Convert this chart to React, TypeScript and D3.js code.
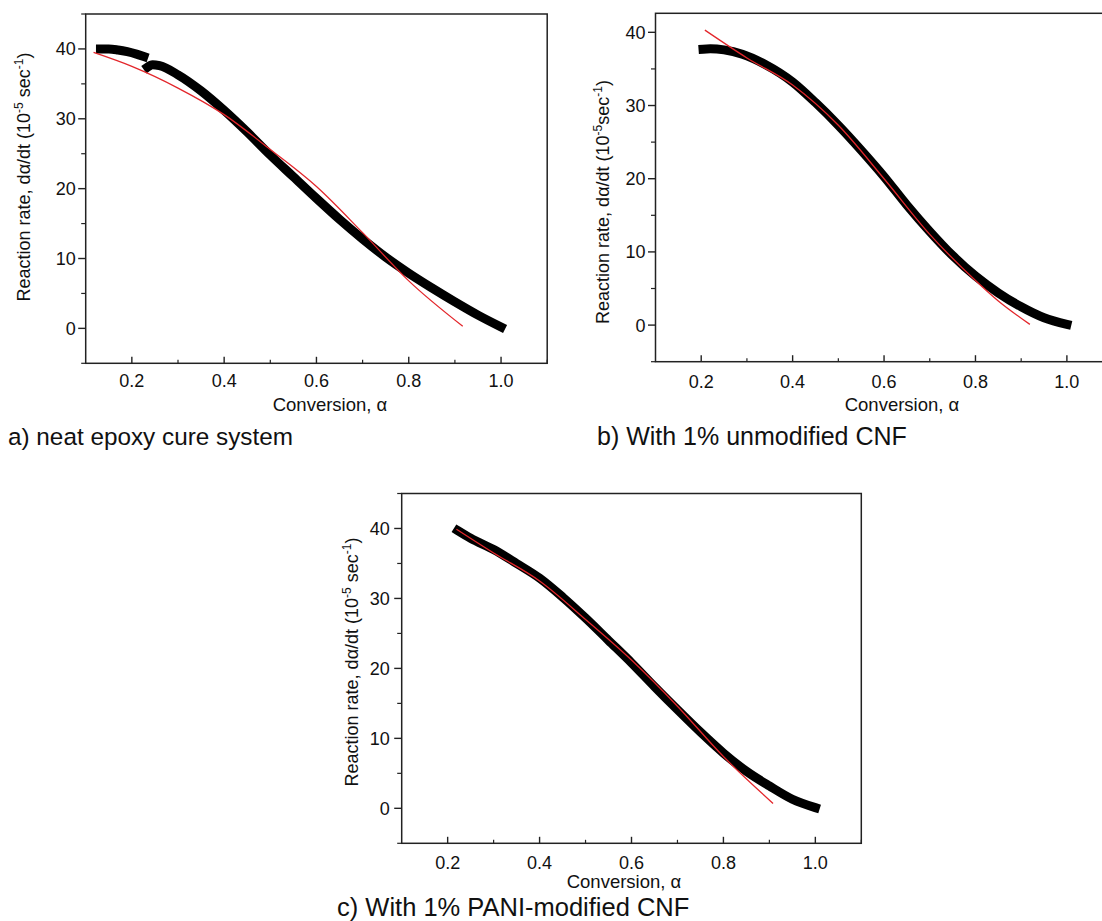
import React from "react";
import * as d3 from "d3";

type Pt = [number, number];

// ---------- DATA ----------
const xMajorTicks = [0.2, 0.4, 0.6, 0.8, 1.0];
const xMinorTicks = [0.3, 0.5, 0.7, 0.9, 1.1];
const yMajorTicks = [0, 10, 20, 30, 40];
const yMinorTicks = [-5, 5, 15, 25, 35, 45];

// a) neat epoxy: experimental (two runs of markers with a step near 0.23) and fit
const neatExp1: Pt[] = [
  [0.132, 40.0], [0.15, 40.0], [0.17, 39.85], [0.19, 39.6], [0.21, 39.25], [0.226, 38.9],
];
const neatExp2: Pt[] = [
  [0.234, 37.4], [0.245, 37.75], [0.26, 37.6], [0.3, 36.3], [0.35, 34.0], [0.4, 31.2],
  [0.45, 28.1], [0.5, 24.8], [0.55, 21.7], [0.6, 18.6], [0.65, 15.6], [0.7, 12.8],
  [0.75, 10.2], [0.8, 7.9], [0.85, 5.8], [0.9, 3.8], [0.95, 1.9], [1.0, 0.2],
];
const neatFit: Pt[] = [
  [0.117, 39.5], [0.2, 37.5], [0.3, 34.4], [0.4, 30.6], [0.5, 25.6], [0.6, 20.3],
  [0.7, 13.7], [0.8, 6.8], [0.917, 0.3],
];

// b) with 1% unmodified CNF
const cnfExp: Pt[] = [
  [0.204, 37.7], [0.22, 37.75], [0.25, 37.6], [0.29, 37.0], [0.34, 35.6], [0.4, 33.2],
  [0.45, 30.4], [0.5, 27.3], [0.55, 23.9], [0.6, 20.3], [0.65, 16.4], [0.7, 12.8],
  [0.75, 9.5], [0.8, 6.7], [0.85, 4.4], [0.9, 2.5], [0.95, 1.0], [1.0, 0.1],
];
const cnfFit: Pt[] = [
  [0.208, 40.3], [0.3, 36.5], [0.4, 32.8], [0.5, 27.3], [0.6, 20.0], [0.7, 12.4],
  [0.8, 6.1], [0.85, 3.3], [0.919, 0.1],
];

// c) with 1% PANI-modified CNF
const paniExp: Pt[] = [
  [0.222, 39.7], [0.25, 38.6], [0.3, 37.0], [0.35, 35.0], [0.4, 32.9], [0.45, 30.2],
  [0.5, 27.2], [0.55, 24.0], [0.6, 20.8], [0.65, 17.4], [0.7, 14.1], [0.75, 10.9],
  [0.8, 7.9], [0.85, 5.3], [0.9, 3.2], [0.95, 1.3], [1.0, 0.1],
];
const paniFit: Pt[] = [
  [0.219, 39.9], [0.3, 36.5], [0.4, 32.5], [0.5, 27.0], [0.6, 21.2], [0.7, 14.6],
  [0.8, 7.4], [0.908, 0.7],
];

const captions = [
  "a) neat epoxy cure system",
  "b) With 1% unmodified CNF",
  "c) With 1% PANI-modified CNF",
];

// ---------- LAYOUT ----------
const FONT = "'Liberation Sans', Arial, Helvetica, sans-serif";
const AXIS = "#222";
const TEXT = "#111";
const RED = "#e3262b";

type Cfg = {
  left: number; right: number; top: number; bottom: number;
  yMax: number;
  yTickGap: number; xTickDy: number;
  xTitle: [number, number];
  yTitle: [number, number];
  ySpace: boolean;
};

const cfgA: Cfg = {
  left: 85.7, right: 547.2, top: 14, bottom: 363.3, yMax: 45,
  yTickGap: 10, xTickDy: 24, xTitle: [330, 411], yTitle: [24, 177], ySpace: true,
};
const cfgB: Cfg = {
  left: 655.5, right: 1112.6, top: 13.3, bottom: 361.7, yMax: 42.6,
  yTickGap: 10, xTickDy: 26.5, xTitle: [902, 411], yTitle: [603, 202], ySpace: false,
};
const cfgC: Cfg = {
  left: 401.7, right: 861.3, top: 493.5, bottom: 843.3, yMax: 45,
  yTickGap: 12, xTickDy: 25.5, xTitle: [624, 888], yTitle: [352, 662], ySpace: true,
};

function Panel({ cfg, exp, fit }: { cfg: Cfg; exp: Pt[][]; fit: Pt[] }) {
  const x = d3.scaleLinear().domain([0.1, 1.1]).range([cfg.left, cfg.right]);
  const y = d3.scaleLinear().domain([-5, cfg.yMax]).range([cfg.bottom, cfg.top]);
  const line = d3
    .line<Pt>()
    .x((d) => x(d[0]))
    .y((d) => y(d[1]))
    .curve(d3.curveMonotoneX);
  const fx = d3.format(".1f");
  const yMinor = yMinorTicks.filter((t) => t <= cfg.yMax);
  return (
    <g>
      {exp.map((seg, i) => (
        <path
          key={i}
          d={line(seg) || ""}
          fill="none"
          stroke="#000"
          strokeWidth={9}
          strokeLinecap="square"
          strokeLinejoin="round"
        />
      ))}
      <path d={line(fit) || ""} fill="none" stroke={RED} strokeWidth={1.3} />
      <rect
        x={cfg.left}
        y={cfg.top}
        width={cfg.right - cfg.left}
        height={cfg.bottom - cfg.top}
        fill="none"
        stroke={AXIS}
        strokeWidth={1.5}
      />
      {/* y ticks (outward) */}
      {yMajorTicks.map((t) => (
        <g key={"ym" + t}>
          <line x1={cfg.left - 7.5} x2={cfg.left} y1={y(t)} y2={y(t)} stroke={AXIS} strokeWidth={1.4} />
          <text
            x={cfg.left - cfg.yTickGap}
            y={y(t)}
            dy="0.36em"
            textAnchor="end"
            fontSize={18}
            fill={TEXT}
          >
            {String(t)}
          </text>
        </g>
      ))}
      {yMinor.map((t) => (
        <line key={"yn" + t} x1={cfg.left - 4.5} x2={cfg.left} y1={y(t)} y2={y(t)} stroke={AXIS} strokeWidth={1.2} />
      ))}
      {/* x ticks (inward) */}
      {xMajorTicks.map((t) => (
        <g key={"xm" + t}>
          <line x1={x(t)} x2={x(t)} y1={cfg.bottom} y2={cfg.bottom - 6.5} stroke={AXIS} strokeWidth={1.4} />
          <text x={x(t)} y={cfg.bottom + cfg.xTickDy} textAnchor="middle" fontSize={18} fill={TEXT}>
            {fx(t)}
          </text>
        </g>
      ))}
      {xMinorTicks.map((t) => (
        <line key={"xn" + t} x1={x(t)} x2={x(t)} y1={cfg.bottom} y2={cfg.bottom - 3.5} stroke={AXIS} strokeWidth={1.2} />
      ))}
      <text x={cfg.xTitle[0]} y={cfg.xTitle[1]} textAnchor="middle" fontSize={18.5} fill={TEXT}>
        Conversion, α
      </text>
      <text
        transform={`translate(${cfg.yTitle[0]},${cfg.yTitle[1]}) rotate(-90)`}
        textAnchor="middle"
        dy="0.35em"
        fontSize={18}
        fill={TEXT}
      >
        <tspan>Reaction rate, dα/dt (10</tspan>
        <tspan dy={-7} fontSize={12}>-5</tspan>
        <tspan dy={7}>{cfg.ySpace ? " sec" : "sec"}</tspan>
        <tspan dy={-7} fontSize={12}>-1</tspan>
        <tspan dy={7}>)</tspan>
      </text>
    </g>
  );
}

export default function App() {
  return (
    <>
      <style>{`html,body{margin:0;padding:0;background:#fff}`}</style>
      <svg width={1102} height={921} style={{ display: "block" }} fontFamily={FONT}>
        <rect width={1102} height={921} fill="#fff" />
        <Panel cfg={cfgA} exp={[neatExp1, neatExp2]} fit={neatFit} />
        <Panel cfg={cfgB} exp={[cnfExp]} fit={cnfFit} />
        <Panel cfg={cfgC} exp={[paniExp]} fit={paniFit} />
        <text x={8} y={445} fontSize={24.3} fill="#111">{captions[0]}</text>
        <text x={597} y={445} fontSize={25} fill="#111">{captions[1]}</text>
        <text x={337} y={915.5} fontSize={25.5} fill="#111">{captions[2]}</text>
      </svg>
    </>
  );
}
